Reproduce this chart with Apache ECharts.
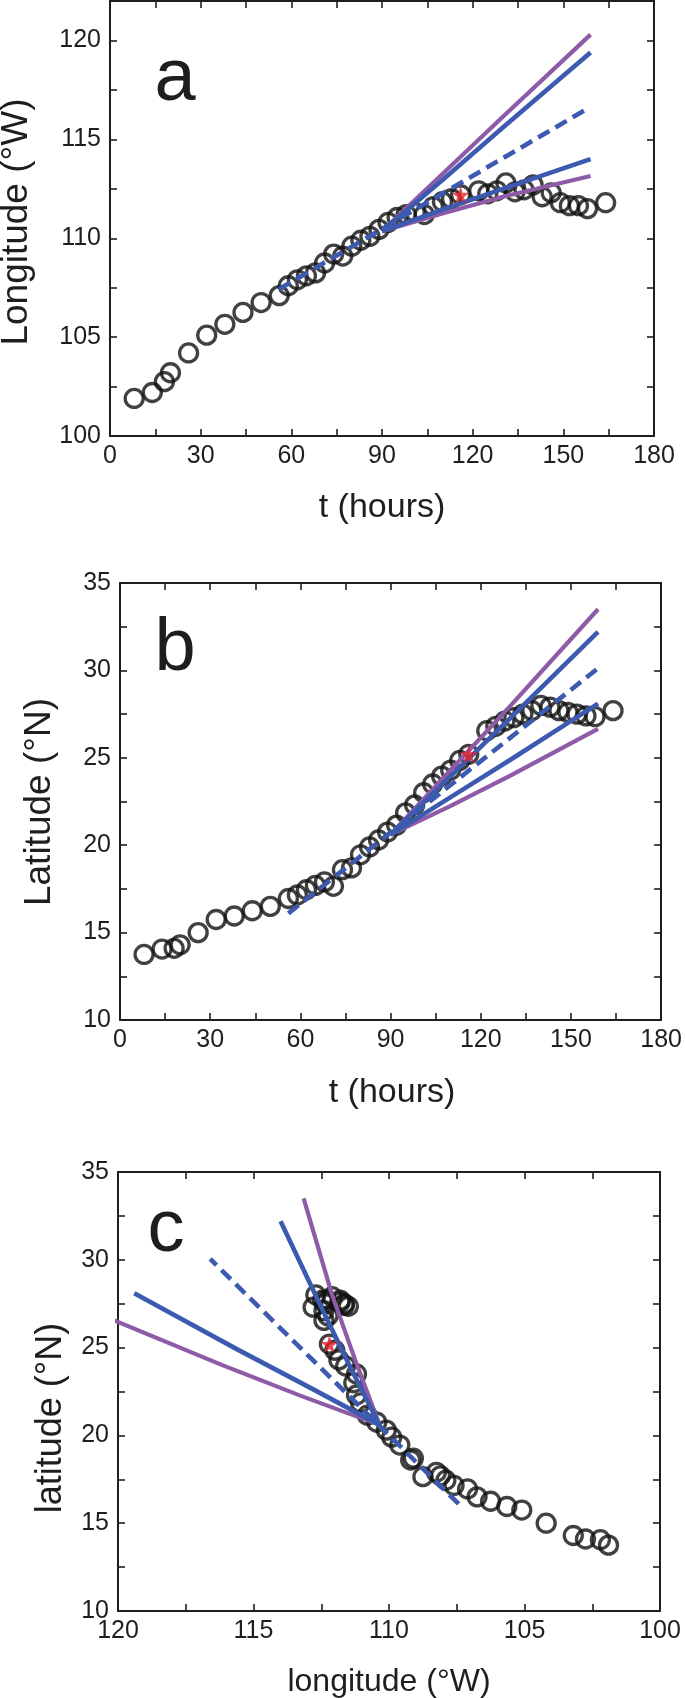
<!DOCTYPE html>
<html><head><meta charset="utf-8">
<script src="https://cdn.jsdelivr.net/npm/echarts@6/dist/echarts.min.js"></script>
<style>html,body{margin:0;padding:0;background:#fff}#c{width:685px;height:1698px}</style>
</head><body><div id="c"></div>
<script>
// observed track: time (hours), longitude (°W), latitude (°N)
const times  = [8,14,18,20,26,32,38,44,50,56,59,62,65,68,71,74,77,80,83,86,89,92,95,98,101,104,107,110,113,116,122,125,128,131,134,137,140,143,146,149,152,155,158,164];
const lonObs = [101.9,102.2,102.75,103.2,104.2,105.1,105.65,106.25,106.75,107.1,107.6,107.9,108.1,108.25,108.75,109.2,109.1,109.6,109.9,110.1,110.45,110.8,111.05,111.2,111.3,111.2,111.6,111.85,112.0,112.2,112.4,112.25,112.4,112.8,112.35,112.45,112.7,112.1,112.3,111.8,111.65,111.65,111.5,111.8];
const latObs = [13.75,14.06,14.1,14.3,15.0,15.75,15.95,16.25,16.5,16.95,17.15,17.45,17.7,17.9,17.65,18.6,18.7,19.45,19.9,20.3,20.75,21.15,21.85,22.3,23.0,23.5,23.95,24.3,24.85,25.2,26.55,26.8,27.1,27.3,27.5,27.7,28.0,27.9,27.7,27.6,27.5,27.4,27.35,27.7];

// forecast fan (from t = 90 h)
const fanT         = [90, 110, 130, 159];
const lonPurpleUp  = [110.35, 113.25, 116.15, 120.3];
const lonBlueUp    = [110.35, 112.95, 115.6, 119.4];
const lonBlueLow   = [110.35, 111.45, 112.5, 114.0];
const lonPurpleLow = [110.35, 111.25, 112.1, 113.15];
const latPurpleUp  = [20.6, 24.3, 28.0, 33.5];
const latBlueUp    = [20.6, 23.95, 27.3, 32.2];
const latBlueLow   = [20.6, 22.75, 24.9, 28.1];
const latPurpleLow = [20.6, 22.25, 24.0, 26.65];

// central (dashed) prediction
const dashT   = [56, 158.5];
const lonDash = [107.43, 116.6];
const latDash = [16.1, 30.05];

// marked point (star)
const starT = [116];
const starLon = [112.2];
const starLat = [25.2];

// axis tick labels
const xTicksT   = [0, 30, 60, 90, 120, 150, 180];
const yTicksLon = [100, 105, 110, 115, 120];
const yTicksLat = [10, 15, 20, 25, 30, 35];
const xTicksLon = [100, 105, 110, 115, 120];

const FONT = "'Liberation Sans', Arial, sans-serif";
const PURPLE = '#8d5ba7', BLUE = '#3c5ab0', INK = '#1e1e1e';

function pairs(xs, ys) { return xs.map((x, i) => [x, ys[i]]); }
function mkFmt(labels) {
  return function (v) {
    for (const l of labels) if (Math.abs(l - v) < 1e-6) return String(l);
    return '';
  };
}

const xAxes = [], yAxes = [];
function addAxes(gi, xr, yr) {
  const line = { show: true, onZero: false, lineStyle: { color: INK, width: 2 } };
  const tick = { show: true, inside: true, length: 7, lineStyle: { color: INK, width: 1.6 } };
  const lab = { fontSize: 25, fontFamily: FONT, color: INK };
  xAxes.push({ type: 'value', gridIndex: gi, position: 'bottom', min: xr.min, max: xr.max, interval: xr.step, inverse: !!xr.inverse,
    axisLine: line, axisTick: tick, splitLine: { show: false },
    axisLabel: Object.assign({ margin: 8, formatter: mkFmt(xr.labels) }, lab) });
  xAxes.push({ type: 'value', gridIndex: gi, position: 'top', min: xr.min, max: xr.max, interval: xr.step, inverse: !!xr.inverse,
    axisLine: line, axisTick: tick, splitLine: { show: false }, axisLabel: { show: false } });
  yAxes.push({ type: 'value', gridIndex: gi, position: 'left', min: yr.min, max: yr.max, interval: yr.step,
    axisLine: line, axisTick: tick, splitLine: { show: false },
    axisLabel: Object.assign({ margin: 9, formatter: mkFmt(yr.labels) }, lab) });
  yAxes.push({ type: 'value', gridIndex: gi, position: 'right', min: yr.min, max: yr.max, interval: yr.step,
    axisLine: line, axisTick: tick, splitLine: { show: false }, axisLabel: { show: false } });
}

addAxes(0, { min: 0, max: 180, step: 15, labels: xTicksT }, { min: 100, max: 122, step: 2.5, labels: yTicksLon });
addAxes(1, { min: 0, max: 180, step: 15, labels: xTicksT }, { min: 10, max: 35, step: 2.5, labels: yTicksLat });
addAxes(2, { min: 100, max: 120, step: 2.5, labels: xTicksLon, inverse: true }, { min: 10, max: 35, step: 2.5, labels: yTicksLat });

const series = [];
function circles(gi, data) {
  series.push({ type: 'scatter', xAxisIndex: gi * 2, yAxisIndex: gi * 2, data, symbol: 'circle', symbolSize: 18,
    itemStyle: { color: 'rgba(0,0,0,0)', borderColor: '#111', borderWidth: 3.3 }, z: 2, silent: true });
}
function line(gi, data, color, dashed, width) {
  series.push({ type: 'line', xAxisIndex: gi * 2, yAxisIndex: gi * 2, data, symbol: 'none', clip: true, z: 3, silent: true,
    lineStyle: { color, width: width || 4.6, type: dashed ? [13, 7] : 'solid', cap: 'butt' } });
}
const STAR = 'path://M50,0 L61,35 L98,35 L68,57 L79,91 L50,70 L21,91 L32,57 L2,35 L39,35 Z';
function star(gi, data) {
  series.push({ type: 'scatter', xAxisIndex: gi * 2, yAxisIndex: gi * 2, data, symbol: STAR, symbolSize: 18,
    itemStyle: { color: '#e8202a' }, z: 5, silent: true });
}

// panel a: t vs longitude
circles(0, pairs(times, lonObs));
line(0, pairs(fanT, lonPurpleUp), PURPLE, false, 4.2);
line(0, pairs(fanT, lonPurpleLow), PURPLE, false, 4.2);
line(0, pairs(fanT, lonBlueUp), BLUE);
line(0, pairs(fanT, lonBlueLow), BLUE);
line(0, pairs(dashT, lonDash), BLUE, true);
star(0, pairs(starT, starLon));

// panel b: t vs latitude
circles(1, pairs(times, latObs));
line(1, pairs(fanT, latPurpleUp), PURPLE, false, 4.2);
line(1, pairs(fanT, latPurpleLow), PURPLE, false, 4.2);
line(1, pairs(fanT, latBlueUp), BLUE);
line(1, pairs(fanT, latBlueLow), BLUE);
line(1, pairs(dashT, latDash), BLUE, true);
star(1, pairs(starT, starLat));

// panel c: longitude vs latitude
circles(2, pairs(lonObs, latObs));
line(2, pairs(lonPurpleUp, latPurpleLow), PURPLE, false, 4.2);
line(2, pairs(lonPurpleLow, latPurpleUp), PURPLE, false, 4.2);
line(2, pairs(lonBlueUp, latBlueLow), BLUE);
line(2, pairs(lonBlueLow, latBlueUp), BLUE);
line(2, pairs(lonDash, latDash), BLUE, true);
star(2, pairs(starLon, starLat));

function txt(text, x, y, size, rot) {
  return { type: 'text', x, y, rotation: rot || 0, silent: true,
    style: { text, fontSize: size, fontFamily: FONT, fill: INK, align: 'center', verticalAlign: 'middle' } };
}

const chart = echarts.init(document.getElementById('c'), null, { renderer: 'canvas' });
chart.setOption({
  animation: false,
  backgroundColor: '#fff',
  grid: [
    { left: 110, top: 1, width: 544, height: 435 },
    { left: 120, top: 583, width: 545, height: 437 },
    { left: 118, top: 1172, width: 542, height: 439 }
  ],
  xAxis: xAxes,
  yAxis: yAxes,
  series,
  graphic: [
    txt('Longitude (°W)', 17, 222, 37, Math.PI / 2),
    txt('Latitude (°N)', 40, 802, 37, Math.PI / 2),
    txt('latitude (°N)', 51, 1418, 36, Math.PI / 2),
    txt('t (hours)', 382, 508, 34),
    txt('t (hours)', 392, 1093, 34),
    txt('longitude (°W)', 389, 1682, 32),
    txt('a', 175, 80, 74),
    txt('b', 175, 650, 74),
    txt('c', 166, 1231, 74)
  ]
});
</script>
</body></html>
